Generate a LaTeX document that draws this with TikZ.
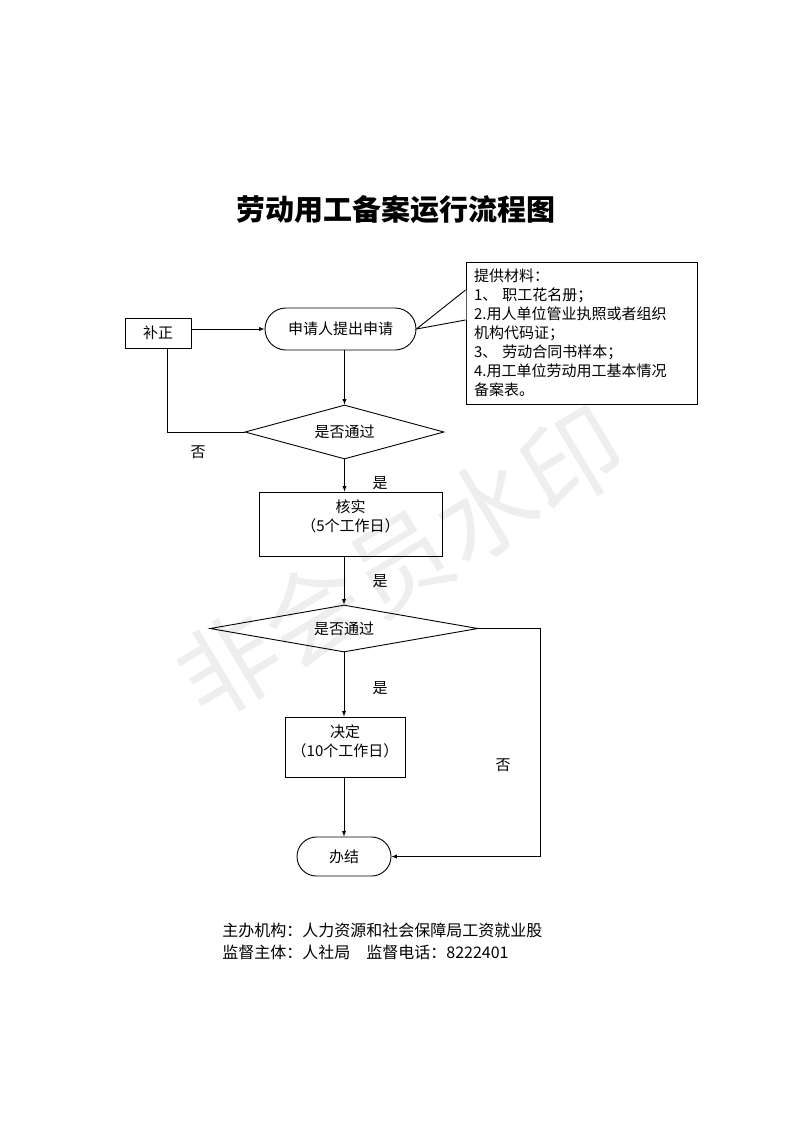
\documentclass[tikz,border=0pt]{standalone}
\usepackage{fontspec}
\setmainfont{Noto Sans CJK SC}
\usepackage{tikz}
\usetikzlibrary{shapes.geometric,shapes.misc}

\begin{document}
\begin{tikzpicture}[x=1pt, y=-1pt, >=latex, line width=0.9pt,
        every node/.style={font=\fontsize{15}{19}\selectfont},
        procbox/.style={draw, rectangle, inner sep=2pt},
        termbox/.style={draw, rounded rectangle, inner sep=2pt},
        askbox/.style={draw, diamond, inner sep=0pt},
        flow/.style={->}]
        \useasboundingbox (0,0) rectangle (793,1122);
        \node[text=gray!13, rotate=31, font=\fontsize{100}{100}\selectfont] (wmark) at (400,562) {非会员水印}; %watermark
        \node[font=\fontsize{29}{34}\selectfont\bfseries] (title) at (396,210) {劳动用工备案运行流程图};

        \node[procbox, minimum width=66, minimum height=30]  (fix)    at (158,333)   {补正};          %
        \node[termbox, minimum width=155, minimum height=42] (apply)  at (340.5,329) {申请人提出申请}; %
        \node[draw, rectangle, minimum height=142, text width=215, inner xsep=8, align=left] (note) at (581.5,333)
             {提供材料：\\1、 职工花名册；\\2.用人单位管业执照或者组织\\机构代码证；\\3、 劳动合同书样本；\\4.用工单位劳动用工基本情况\\备案表。};
        \fill[white] ([xshift=0.8, yshift=43]note.west) -- (apply.east) -- ([xshift=0.8, yshift=13]note.west) -- cycle;
        \draw        ([yshift=43]note.west) -- (apply.east) -- ([yshift=13]note.west); %callout

        \node[askbox, minimum width=199, minimum height=54, shape aspect=3.7] (q1) at (344.5,432) {是否通过}; %check 1
        \node[procbox, minimum width=183, minimum height=64, align=center, inner ysep=8, text height=31, text depth=17]
             (verify) at (350.5,524) {核实\\（5个工作日）};
        \node[askbox, minimum width=268, minimum height=47, shape aspect=5.7] (q2) at (344,628.5) {是否通过}; %check 2
        \node[procbox, minimum width=120, minimum height=60, align=center, inner ysep=8, text height=31, text depth=13]
             (decide) at (345,747) {决定\\（10个工作日）};
        \node[termbox, minimum width=98, minimum height=39] (done) at (344,856.5) {办结};      %

        \draw[flow] (fix.east |- apply.west) -- (apply.west);          %
        \draw[flow] (apply.south -| q1.north) -- (q1.north);           %
        \draw       (q1.west) -| ([xshift=9]fix.south);                %back to fix
        \draw[flow] (q1.south) -- (q1.south |- verify.north);          %
        \draw[flow] (verify.south -| q2.north) -- (q2.north);          %
        \draw[flow] (q2.south) -- (q2.south |- decide.north);          %
        \draw[flow] (decide.south -| done.north) -- (done.north);      %
        \draw[flow] (q2.east) -- ++(62,0) |- (done.east);              %no

        \node (yes1) at (380,483) {是};
        \node (yes2) at (380,581) {是};
        \node (yes3) at (380,688) {是};
        \node (no1)  at (198,452) {否};
        \node (no2)  at (503,765) {否};

        \node[anchor=west, inner sep=0pt, align=left, font=\fontsize{16}{22}\selectfont] (footer) at (222,941)
             {主办机构：人力资源和社会保障局工资就业股\\监督主体：人社局\hspace{1em}监督电话：8222401};
\end{tikzpicture}
\end{document}
